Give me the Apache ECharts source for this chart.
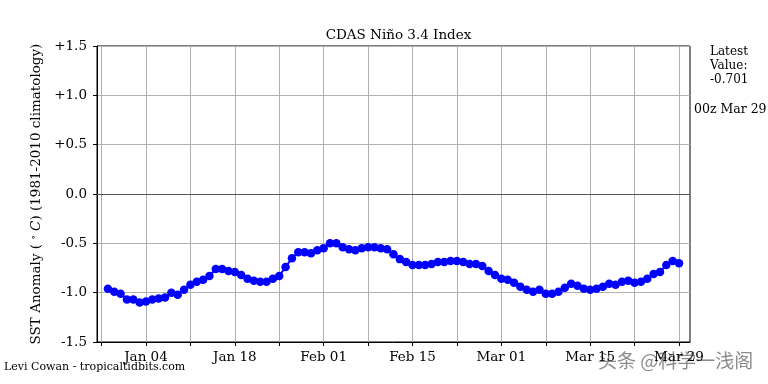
<!DOCTYPE html>
<html>
<head>
<meta charset="utf-8">
<script src="https://cdn.jsdelivr.net/npm/echarts@6/dist/echarts.min.js"></script>
<style>
html,body{margin:0;padding:0;background:#fff;}
#chart{width:768px;height:384px;}
</style>
</head>
<body>
<div id="chart"></div>
<script>
// Day index: days since Jan 01 (Dec 29 = -3)
const startDay = -3;
const values = [
  -0.96, -0.99, -1.01, -1.07, -1.07, -1.10, -1.09, -1.07, -1.06, -1.05,
  -1.00, -1.02, -0.97, -0.92, -0.89, -0.87, -0.83, -0.76, -0.76, -0.78,
  -0.79, -0.82, -0.86, -0.88, -0.89, -0.89, -0.86, -0.83, -0.74, -0.65,
  -0.59, -0.59, -0.60, -0.57, -0.55, -0.50, -0.50, -0.54, -0.56, -0.57,
  -0.55, -0.54, -0.54, -0.55, -0.56, -0.61, -0.66, -0.69, -0.72, -0.72,
  -0.72, -0.71, -0.69, -0.69, -0.68, -0.68, -0.69, -0.71, -0.71, -0.73,
  -0.78, -0.82, -0.86, -0.87, -0.90, -0.94, -0.97, -0.99, -0.97, -1.01,
  -1.01, -0.99, -0.95, -0.91, -0.93, -0.96, -0.97, -0.96, -0.94, -0.91,
  -0.92, -0.89, -0.88, -0.90, -0.89, -0.86, -0.81, -0.79, -0.72, -0.68,
  -0.701
];
const tickDays = [-4, 3, 10, 17, 24, 31, 38, 45, 52, 59, 66, 73, 80, 87];
const labelDays = [3, 17, 31, 45, 59, 73, 87];
const labelTexts = ['Jan 04', 'Jan 18', 'Feb 01', 'Feb 15', 'Mar 01', 'Mar 15', 'Mar 29'];

const FONT = 'DejaVu Serif';
const seriesData = values.map((v, i) => [startDay + i, v]);

const chart = echarts.init(document.getElementById('chart'), null, {renderer: 'canvas'});
chart.setOption({
  animation: false,
  backgroundColor: '#fff',
  title: {
    text: 'CDAS Niño 3.4 Index',
    left: 393.5, top: 23, textAlign: 'center',
    textStyle: {fontFamily: FONT, fontWeight: 'normal', fontSize: 13.5, color: '#000'}
  },
  grid: {left: 97, right: 78, top: 46, bottom: 42, show: true, borderColor: '#000', borderWidth: 1, containLabel: false},
  xAxis: {
    type: 'value', min: -4.72, max: 88.73,
    axisLine: {show: true, onZero: false, lineStyle: {color: '#000', width: 1}},
    axisTick: {show: true, length: 4, inside: false, customValues: tickDays, lineStyle: {color: '#000'}},
    axisLabel: {
      customValues: labelDays, margin: 8,
      fontFamily: FONT, fontSize: 13.5, color: '#000',
      formatter: v => { const k = labelDays.indexOf(Math.round(v)); return k >= 0 ? labelTexts[k] : ''; }
    },
    splitLine: {show: true, lineStyle: {color: '#b0b0b0', width: 1}}
  },
  yAxis: {
    type: 'value', min: -1.5, max: 1.5, interval: 0.5,
    name: '{a|SST Anomaly ( }{s|∘}{i| C}{a|) (1981-2010 climatology)}',
    nameLocation: 'middle', nameGap: 53, nameRotate: 90,
    nameTextStyle: {
      rich: {
        a: {fontFamily: FONT, fontSize: 13.5, color: '#000'},
        s: {fontFamily: FONT, fontSize: 9, color: '#000', verticalAlign: 'top', padding: [0,0,6,0]},
        i: {fontFamily: FONT, fontSize: 13.5, color: '#000', fontStyle: 'italic'}
      }
    },
    axisLine: {show: true, onZero: false, lineStyle: {color: '#000', width: 1}},
    axisTick: {show: true, length: 4, lineStyle: {color: '#000'}},
    axisLabel: {
      fontFamily: FONT, fontSize: 13.5, color: '#000', margin: 10,
      formatter: v => v > 0 ? '+' + v.toFixed(1) : v.toFixed(1)
    },
    splitLine: {show: true, lineStyle: {color: '#b0b0b0', width: 1}}
  },
  series: [{
    type: 'line',
    data: seriesData,
    color: '#0000ff',
    lineStyle: {color: '#0000ff', width: 2},
    symbol: 'circle', symbolSize: 8.5,
    itemStyle: {color: '#0000ff'},
    markLine: {
      silent: true, symbol: 'none', label: {show: false},
      lineStyle: {color: '#555', width: 1.2, type: 'solid'},
      data: [{yAxis: 0}]
    },
    z: 3
  }],
  graphic: [
    {type: 'text', left: 710, top: 45, style: {text: 'Latest\nValue:\n-0.701', fontFamily: FONT, fontSize: 12, lineHeight: 14, fill: '#000', align: 'center'}},
    {type: 'text', left: 694, top: 103, style: {text: '00z Mar 29', fontFamily: FONT, fontSize: 12.5, fill: '#000'}},
    {type: 'text', left: 4, top: 362, style: {text: 'Levi Cowan - tropicaltidbits.com', fontFamily: FONT, fontSize: 11, fill: '#000'}},
    {type: 'text', left: 598, top: 351, style: {text: '头条 @科学一浅阁', fontFamily: 'Noto Sans CJK SC', fontSize: 19, fill: 'rgba(90,90,90,0.7)'}}
  ]
});
</script>
</body>
</html>
